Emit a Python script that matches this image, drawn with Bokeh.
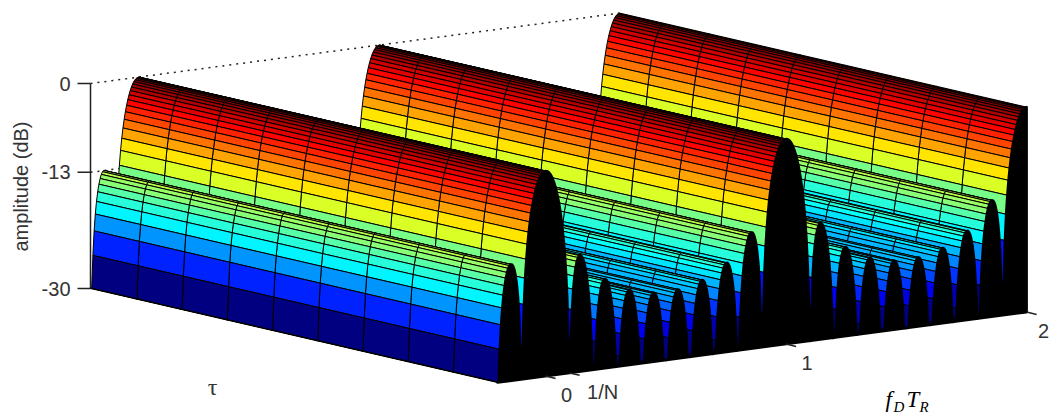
from bokeh.plotting import figure
from bokeh.models import Range1d, ColumnDataSource
from bokeh.embed import file_html
from bokeh.resources import INLINE
from bokeh.core.properties import value
import numpy as np

# amplitude (dB) of one half period, read in steps of 0.005 of f_D T_R, floor at -30
half_period_db = [
    0, -0.04, -0.14, -0.32, -0.57, -0.90, -1.31, -1.81, -2.40, -3.09,
    -3.89, -4.81, -5.89, -7.14, -8.62, -10.37, -12.53, -15.29, -19.11, -25.48,
    -30, -26.32, -20.80, -17.83, -15.94, -14.67, -13.82, -13.29, -13.02, -12.98,
    -13.14, -13.51, -14.09, -14.90, -15.98, -17.37, -19.20, -21.65, -25.20, -30,
    -30, -30, -25.95, -22.78, -20.70, -19.26, -18.25, -17.56, -17.14, -16.96,
    -16.99, -17.23, -17.69, -18.38, -19.34, -20.63, -22.35, -24.71, -28.15, -30,
    -30, -30, -28.55, -25.30, -23.15, -21.63, -20.54, -19.78, -19.29, -19.03,
    -19.00, -19.17, -19.57, -20.20, -21.09, -22.32, -23.98, -26.28, -29.67, -30,
    -30, -30, -29.85, -26.55, -24.34, -22.77, -21.63, -20.82, -20.28, -19.98,
    -19.89, -20.02, -20.37, -20.95, -21.80, -22.98, -24.60, -26.85, -30, -30,
    -30,
]
f_step = 0.005
f_first_index = -40   # f = -0.2
f_last_index = 400    # f = 2
tau_mesh = [0, 1/9, 2/9, 3/9, 4/9, 5/9, 6/9, 7/9, 8/9, 1]
z_ticks = [0, -13, -30]
z_tick_labels = ["0", "-13", "-30"]
f_ticks = [0, 0.1, 1, 2]
f_tick_labels = ["0", "1/N", "1", "2"]
z_floor, z_top = -30, 0

def project(f, t, z):
    x = 497 + 240.5 * (f + 0.2) - 407 * t
    y = 382 - 32 * (f + 0.2) - 94 * t - (z - z_floor) * 205 / 30
    return x, y

def profile(k):
    k = k % 200
    return half_period_db[k if k <= 100 else 200 - k]

stops = [0, 0.125, 0.375, 0.625, 0.875, 1]
reds = [0, 0, 0, 1, 1, 0.5]
greens = [0, 0, 1, 1, 0, 0]
blues = [0.5, 1, 1, 0, 0, 0]
def jet(z):
    s = (z - z_floor) / (z_top - z_floor)
    s = min(int(s * 64), 63) / 63
    r, g, b = (np.interp(s, stops, c) for c in (reds, greens, blues))
    return "#%02x%02x%02x" % (round(r * 255), round(g * 255), round(b * 255))

xs, ys, colors = [], [], []
for k in range(f_last_index - 1, f_first_index - 1, -1):
    f0, f1 = k * f_step, (k + 1) * f_step
    z0, z1 = profile(k), profile(k + 1)
    col = jet(z0)
    for t0, t1 in zip(tau_mesh[:-1], tau_mesh[1:]):
        corners = [project(f0, t0, z0), project(f1, t0, z1), project(f1, t1, z1), project(f0, t1, z0)]
        xs.append([c[0] for c in corners])
        ys.append([c[1] for c in corners])
        colors.append(col)

p = figure(width=1051, height=417, x_range=Range1d(0, 1051), y_range=Range1d(417, 0),
           toolbar_location=None, output_backend="svg", min_border=0,
           x_axis_type=None, y_axis_type=None)
p.grid.visible = False
p.outline_line_color = None
p.background_fill_color = "white"

# dotted grid lines on the back plane
for z in z_ticks:
    a = project(-0.2, 1, z)
    b = project(2, 1, z)
    p.line([a[0], b[0]], [a[1], b[1]], line_color="#222222", line_width=1.5, line_dash="2 5")

# vertical axis
a = project(-0.2, 1, z_top)
b = project(-0.2, 1, z_floor)
p.line([a[0], b[0]], [a[1], b[1]], line_color="#222222", line_width=1.5)
for z, lab in zip(z_ticks, z_tick_labels):
    a = project(-0.2, 1, z)
    p.line([a[0] - 13, a[0]], [a[1], a[1]], line_color="#222222", line_width=1.5)
    p.text([a[0] - 20], [a[1]], text=[lab], text_align="right", text_baseline="middle",
           text_font=value("Liberation Sans"), text_font_size="20px", text_color="#333333")

p.patches("xs", "ys", source=ColumnDataSource(dict(xs=xs, ys=ys, color=colors)),
          fill_color="color", line_color="black", line_width=1.0)

# end wall in front of the surface
wall_k = list(range(f_first_index, f_last_index + 1))
wall = [project(k * f_step, 0, profile(k)) for k in wall_k]
wall = [project(-0.2, 0, z_floor)] + wall + [project(2, 0, z_floor)]
p.patch([c[0] for c in wall], [c[1] for c in wall], fill_color="black", line_color="black",
        line_width=2.6, line_join="round")

# ticks along the front edge
tick_label_shift = [21, 33, 21, 17]
for f, lab, dx in zip(f_ticks, f_tick_labels, tick_label_shift):
    a = project(f, 0, z_floor)
    p.line([a[0], a[0] + 10], [a[1], a[1] + 2.3], line_color="#222222", line_width=1.5)
    p.text([a[0] + dx], [a[1] + 19], text=[lab], text_align="center", text_baseline="middle",
           text_font=value("Liberation Sans"), text_font_size="20px", text_color="#333333")

p.text([20], [186], text=["amplitude (dB)"], angle=np.pi / 2, text_align="center", text_baseline="middle",
       text_font=value("Liberation Sans"), text_font_size="20px", text_color="#333333")
p.text([212], [386], text=["τ"], text_align="center", text_baseline="middle",
       text_font=value("Liberation Serif"), text_font_size="24px", text_color="#333333")
for x, y, s, size in [(885, 399, "f", "23px"), (893, 406, "D", "15px"), (906, 399, "T", "23px"), (919, 406, "R", "15px")]:
    p.text([x], [y], text=[s], text_align="left", text_baseline="middle",
           text_font=value("Liberation Serif"), text_font_style="italic", text_font_size=size, text_color="#000000")

open("out.html", "w").write(file_html(p, INLINE))
